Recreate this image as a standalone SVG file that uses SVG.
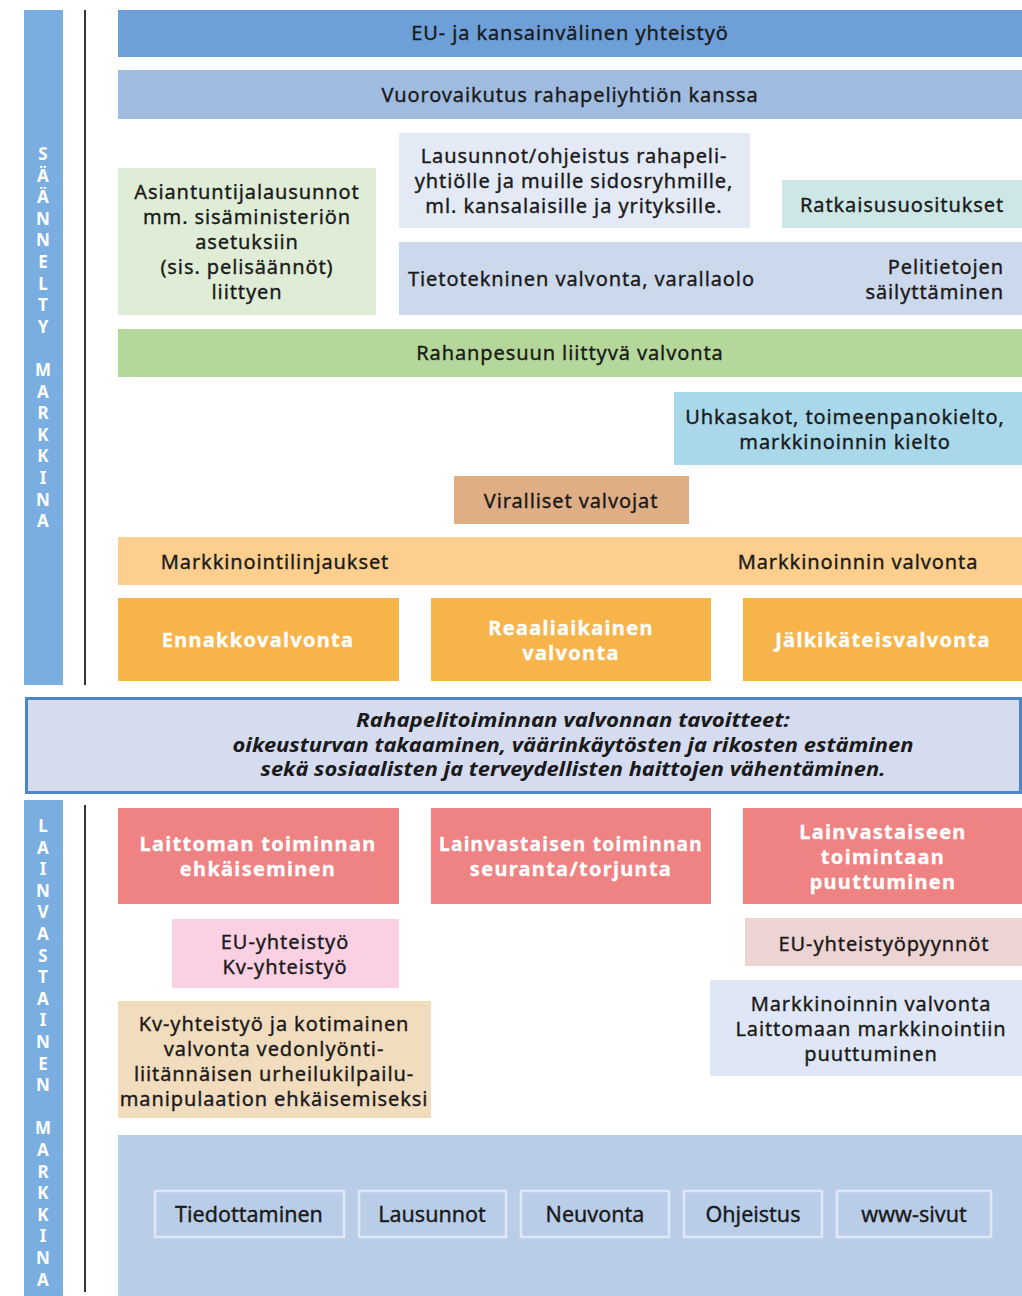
<svg xmlns="http://www.w3.org/2000/svg" width="1022" height="1296" viewBox="0 0 1022 1296">
<style>
text{font-family:"Noto Sans","Open Sans","DejaVu Sans",sans-serif;font-size:20px;letter-spacing:0.9px;fill:#1a1a1a;stroke:#1a1a1a;stroke-width:0.35px;text-anchor:middle}
.w{fill:#fff;stroke:#fff;stroke-width:0.3px;font-weight:bold;font-size:20px;letter-spacing:1.3px}
.v{fill:#fff;stroke:none;font-weight:bold;font-size:17px;letter-spacing:0}
.g{font-style:italic;font-weight:bold;font-size:19px;stroke:none;letter-spacing:0}
.b{font-size:21.5px;letter-spacing:0}
.s{fill:none;stroke:#dfe8f4;stroke-width:2.5}
.l{text-anchor:start}
.r{text-anchor:end}
</style>
<rect width="1022" height="1296" fill="#fff"/>
<g id="side-top">
<rect x="24" y="10" width="39" height="675" fill="#7aaee0"/>
<text class="v"><tspan x="43" y="160">S</tspan><tspan x="43" y="182">Ä</tspan><tspan x="43" y="203">Ä</tspan><tspan x="43" y="225">N</tspan><tspan x="43" y="246">N</tspan><tspan x="43" y="268">E</tspan><tspan x="43" y="290">L</tspan><tspan x="43" y="311">T</tspan><tspan x="43" y="333">Y</tspan><tspan x="43" y="376">M</tspan><tspan x="43" y="398">A</tspan><tspan x="43" y="419">R</tspan><tspan x="43" y="441">K</tspan><tspan x="43" y="462">K</tspan><tspan x="43" y="484">I</tspan><tspan x="43" y="506">N</tspan><tspan x="43" y="527">A</tspan></text>
</g>
<g id="side-bottom">
<rect x="24" y="800" width="39" height="496" fill="#7aaee0"/>
<text class="v"><tspan x="43" y="832">L</tspan><tspan x="43" y="854">A</tspan><tspan x="43" y="875">I</tspan><tspan x="43" y="897">N</tspan><tspan x="43" y="918">V</tspan><tspan x="43" y="940">A</tspan><tspan x="43" y="962">S</tspan><tspan x="43" y="983">T</tspan><tspan x="43" y="1005">A</tspan><tspan x="43" y="1026">I</tspan><tspan x="43" y="1048">N</tspan><tspan x="43" y="1070">E</tspan><tspan x="43" y="1091">N</tspan><tspan x="43" y="1134">M</tspan><tspan x="43" y="1156">A</tspan><tspan x="43" y="1178">R</tspan><tspan x="43" y="1199">K</tspan><tspan x="43" y="1221">K</tspan><tspan x="43" y="1242">I</tspan><tspan x="43" y="1264">N</tspan><tspan x="43" y="1286">A</tspan></text>
</g>
<g id="connectors">
<line x1="85" y1="10" x2="85" y2="685" stroke="#333" stroke-width="2"/>
<line x1="85" y1="805" x2="85" y2="1292" stroke="#333" stroke-width="2"/>
</g>
<g id="eu"><rect x="118" y="10" width="904" height="47" fill="#6f9fd8"/><text x="570" y="40">EU- ja kansainvälinen yhteistyö</text></g>
<g id="vuoro"><rect x="118" y="70" width="904" height="49" fill="#9fbbe0"/><text x="570" y="102">Vuorovaikutus rahapeliyhtiön kanssa</text></g>
<g id="asiantuntija"><rect x="118" y="168" width="258" height="147" fill="#e0edd6"/>
<text><tspan x="247" y="199">Asiantuntijalausunnot</tspan><tspan x="247" y="224">mm. sisäministeriön</tspan><tspan x="247" y="249">asetuksiin</tspan><tspan x="247" y="274">(sis. pelisäännöt)</tspan><tspan x="247" y="299">liittyen</tspan></text></g>
<g id="lausunnot"><rect x="399" y="133" width="351" height="95" fill="#e3e9f5"/>
<text><tspan x="574" y="163">Lausunnot/ohjeistus rahapeli-</tspan><tspan x="574" y="188">yhtiölle ja muille sidosryhmille,</tspan><tspan x="574" y="213">ml. kansalaisille ja yrityksille.</tspan></text></g>
<g id="ratkaisu"><rect x="782" y="180" width="240" height="48" fill="#cde6e6"/><text x="902" y="212">Ratkaisusuositukset</text></g>
<g id="tieto"><rect x="399" y="242" width="623" height="73" fill="#ccd9ec"/>
<text class="l" x="408" y="286">Tietotekninen valvonta, varallaolo</text>
<text class="r"><tspan x="1004" y="274">Pelitietojen</tspan><tspan x="1004" y="299">säilyttäminen</tspan></text></g>
<g id="rahanpesu"><rect x="118" y="329" width="904" height="48" fill="#b5d89a"/><text x="570" y="360">Rahanpesuun liittyvä valvonta</text></g>
<g id="uhkasakot"><rect x="674" y="392" width="348" height="73" fill="#a8d8ea"/>
<text><tspan x="845" y="424">Uhkasakot, toimeenpanokielto,</tspan><tspan x="845" y="449">markkinoinnin kielto</tspan></text></g>
<g id="viralliset"><rect x="454" y="476" width="235" height="48" fill="#dfae85"/><text x="571" y="508">Viralliset valvojat</text></g>
<g id="markkinointi"><rect x="118" y="537" width="904" height="48" fill="#fccf8e"/>
<text x="275" y="569">Markkinointilinjaukset</text><text x="858" y="569">Markkinoinnin valvonta</text></g>
<g id="ennakko"><rect x="118" y="598" width="281" height="83" fill="#f7b44a"/><text class="w" x="258" y="647">Ennakkovalvonta</text></g>
<g id="reaali"><rect x="431" y="598" width="280" height="83" fill="#f7b44a"/><text class="w"><tspan x="571" y="635">Reaaliaikainen</tspan><tspan x="571" y="660">valvonta</tspan></text></g>
<g id="jalki"><rect x="743" y="598" width="279" height="83" fill="#f7b44a"/><text class="w" x="883" y="647">Jälkikäteisvalvonta</text></g>
<g id="tavoitteet"><rect x="26.5" y="698.5" width="994" height="94" fill="#d6dcf0" stroke="#4a86c8" stroke-width="3"/>
<text class="g"><tspan x="573" y="727" textLength="434" lengthAdjust="spacingAndGlyphs">Rahapelitoiminnan valvonnan tavoitteet:</tspan><tspan x="573" y="752" textLength="681" lengthAdjust="spacingAndGlyphs">oikeusturvan takaaminen, väärinkäytösten ja rikosten estäminen</tspan><tspan x="573" y="776" textLength="625" lengthAdjust="spacingAndGlyphs">sekä sosiaalisten ja terveydellisten haittojen vähentäminen.</tspan></text></g>
<g id="laittoman"><rect x="118" y="808" width="281" height="96" fill="#ef8282"/><text class="w"><tspan x="258" y="851">Laittoman toiminnan</tspan><tspan x="258" y="876">ehkäiseminen</tspan></text></g>
<g id="seuranta"><rect x="431" y="808" width="280" height="96" fill="#ef8282"/><text class="w"><tspan x="571" y="851" textLength="264" lengthAdjust="spacingAndGlyphs">Lainvastaisen toiminnan</tspan><tspan x="571" y="876">seuranta/torjunta</tspan></text></g>
<g id="puuttuminen"><rect x="743" y="808" width="279" height="96" fill="#ef8282"/><text class="w"><tspan x="883" y="839">Lainvastaiseen</tspan><tspan x="883" y="864">toimintaan</tspan><tspan x="883" y="889">puuttuminen</tspan></text></g>
<g id="eu-kv"><rect x="172" y="919" width="227" height="69" fill="#fbd0e2"/><text><tspan x="285" y="949">EU-yhteistyö</tspan><tspan x="285" y="974">Kv-yhteistyö</tspan></text></g>
<g id="eu-pyynnot"><rect x="745" y="918" width="277" height="48" fill="#eed3d3"/><text x="884" y="951">EU-yhteistyöpyynnöt</text></g>
<g id="markk-valvonta"><rect x="710" y="980" width="312" height="96" fill="#dfe6f5"/>
<text><tspan x="871" y="1011">Markkinoinnin valvonta</tspan><tspan x="871" y="1036">Laittomaan markkinointiin</tspan><tspan x="871" y="1061">puuttuminen</tspan></text></g>
<g id="kv-kotimainen"><rect x="118" y="1001" width="313" height="117" fill="#f2dcbe"/>
<text><tspan x="274" y="1031">Kv-yhteistyö ja kotimainen</tspan><tspan x="274" y="1056">valvonta vedonlyönti-</tspan><tspan x="274" y="1081">liitännäisen urheilukilpailu-</tspan><tspan x="274" y="1106">manipulaation ehkäisemiseksi</tspan></text></g>
<g id="viestinta"><rect x="118" y="1135" width="904" height="161" fill="#b9cde8"/></g>
<g id="tiedottaminen"><rect class="s" x="155" y="1191" width="189" height="46"/><text class="b" x="249" y="1222">Tiedottaminen</text></g>
<g id="lausunnot2"><rect class="s" x="359" y="1191" width="147" height="46"/><text class="b" x="432" y="1222">Lausunnot</text></g>
<g id="neuvonta"><rect class="s" x="521" y="1191" width="148" height="46"/><text class="b" x="595" y="1222">Neuvonta</text></g>
<g id="ohjeistus"><rect class="s" x="684" y="1191" width="138" height="46"/><text class="b" x="753" y="1222">Ohjeistus</text></g>
<g id="www"><rect class="s" x="837" y="1191" width="154" height="46"/><text class="b" x="914" y="1222">www-sivut</text></g>
</svg>
